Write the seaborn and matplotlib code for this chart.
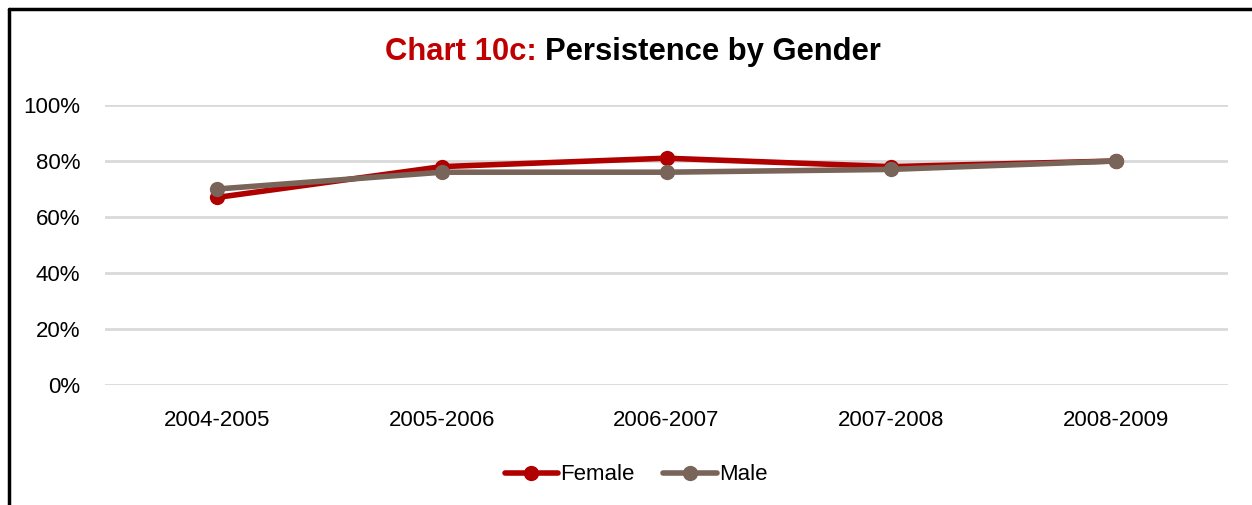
import matplotlib
matplotlib.use("Agg")
import matplotlib.pyplot as plt
import seaborn as sns
import pandas as pd
from matplotlib.lines import Line2D
from matplotlib.ticker import FuncFormatter, MultipleLocator

years = ["2004-2005", "2005-2006", "2006-2007", "2007-2008", "2008-2009"]
female = [67, 78, 81, 78, 80]
male = [70, 76, 76, 77, 80]
series_names = ["Female", "Male"]
colors = {"Female": "#B00000", "Male": "#786458"}

df = pd.DataFrame({
    "Year": years * 2,
    "Value": female + male,
    "Gender": [series_names[0]] * len(years) + [series_names[1]] * len(years),
})

sns.set_theme(style="white")
plt.rcParams["font.family"] = ["Liberation Sans Narrow", "Liberation Sans", "DejaVu Sans"]
plt.rcParams["text.color"] = "black"

fig = plt.figure(figsize=(12.52, 5.05), dpi=100)
ax = fig.add_axes([105 / 1252, 1 - 385 / 505, 1123 / 1252, 280 / 505])

sns.lineplot(data=df, x="Year", y="Value", hue="Gender", palette=colors,
             marker="o", markersize=11, linewidth=4, markeredgewidth=0,
             sort=False, ax=ax, legend=False)

ax.set_xlim(-0.5, 4.5)
ax.set_ylim(0, 100)
ax.yaxis.set_major_locator(MultipleLocator(20))
ax.yaxis.set_major_formatter(FuncFormatter(lambda v, p: f"{int(v)}%"))
ax.grid(axis="y", color="#D9D9D9", linewidth=2)
ax.set_axisbelow(True)
for s in ax.spines.values():
    s.set_visible(False)
ax.set_xlabel("")
ax.set_ylabel("")
ax.tick_params(axis="both", length=0, labelsize=16, colors="black")
ax.tick_params(axis="y", pad=18)
ax.tick_params(axis="x", pad=18)
for ln in ax.lines:
    ln.set_clip_on(False)

# Title
t1 = fig.text(0.31, 1 - 52 / 505, "Chart 10c: ", color="#C00000", fontsize=22.3,
              fontweight="bold", va="center", ha="left")
fig.canvas.draw()
bb = t1.get_window_extent()
t2 = fig.text(bb.x1 / fig.bbox.width, 1 - 52 / 505, "Persistence by Gender", color="black",
              fontsize=22.3, fontweight="bold", va="center", ha="left")
fig.canvas.draw()
bb2 = t2.get_window_extent()
total = bb2.x1 - bb.x0
start = (633 - total / 2)
shift = start - bb.x0
t1.set_x((bb.x0 + shift) / fig.bbox.width)
t2.set_x((bb2.x0 + shift) / fig.bbox.width)

# Legend
handles = [Line2D([0], [0], color=colors[n], linewidth=4, marker="o", markersize=11,
                  markeredgewidth=0) for n in series_names]
fig.legend(handles, series_names, loc="center", bbox_to_anchor=(636 / 1252, 1 - 475 / 505),
           ncol=2, frameon=False, fontsize=16, handlelength=2.4, handletextpad=0.1,
           columnspacing=1.3, labelcolor="black")

# Frame (top and left black border)
fig.add_artist(Line2D([9 / 1252, 1], [1 - 9 / 505, 1 - 9 / 505], color="black",
                      linewidth=2.5, transform=fig.transFigure))
fig.add_artist(Line2D([9 / 1252, 9 / 1252], [0, 1 - 9 / 505], color="black",
                      linewidth=2.5, transform=fig.transFigure))

fig.savefig("out.png", dpi=100, facecolor="white")
